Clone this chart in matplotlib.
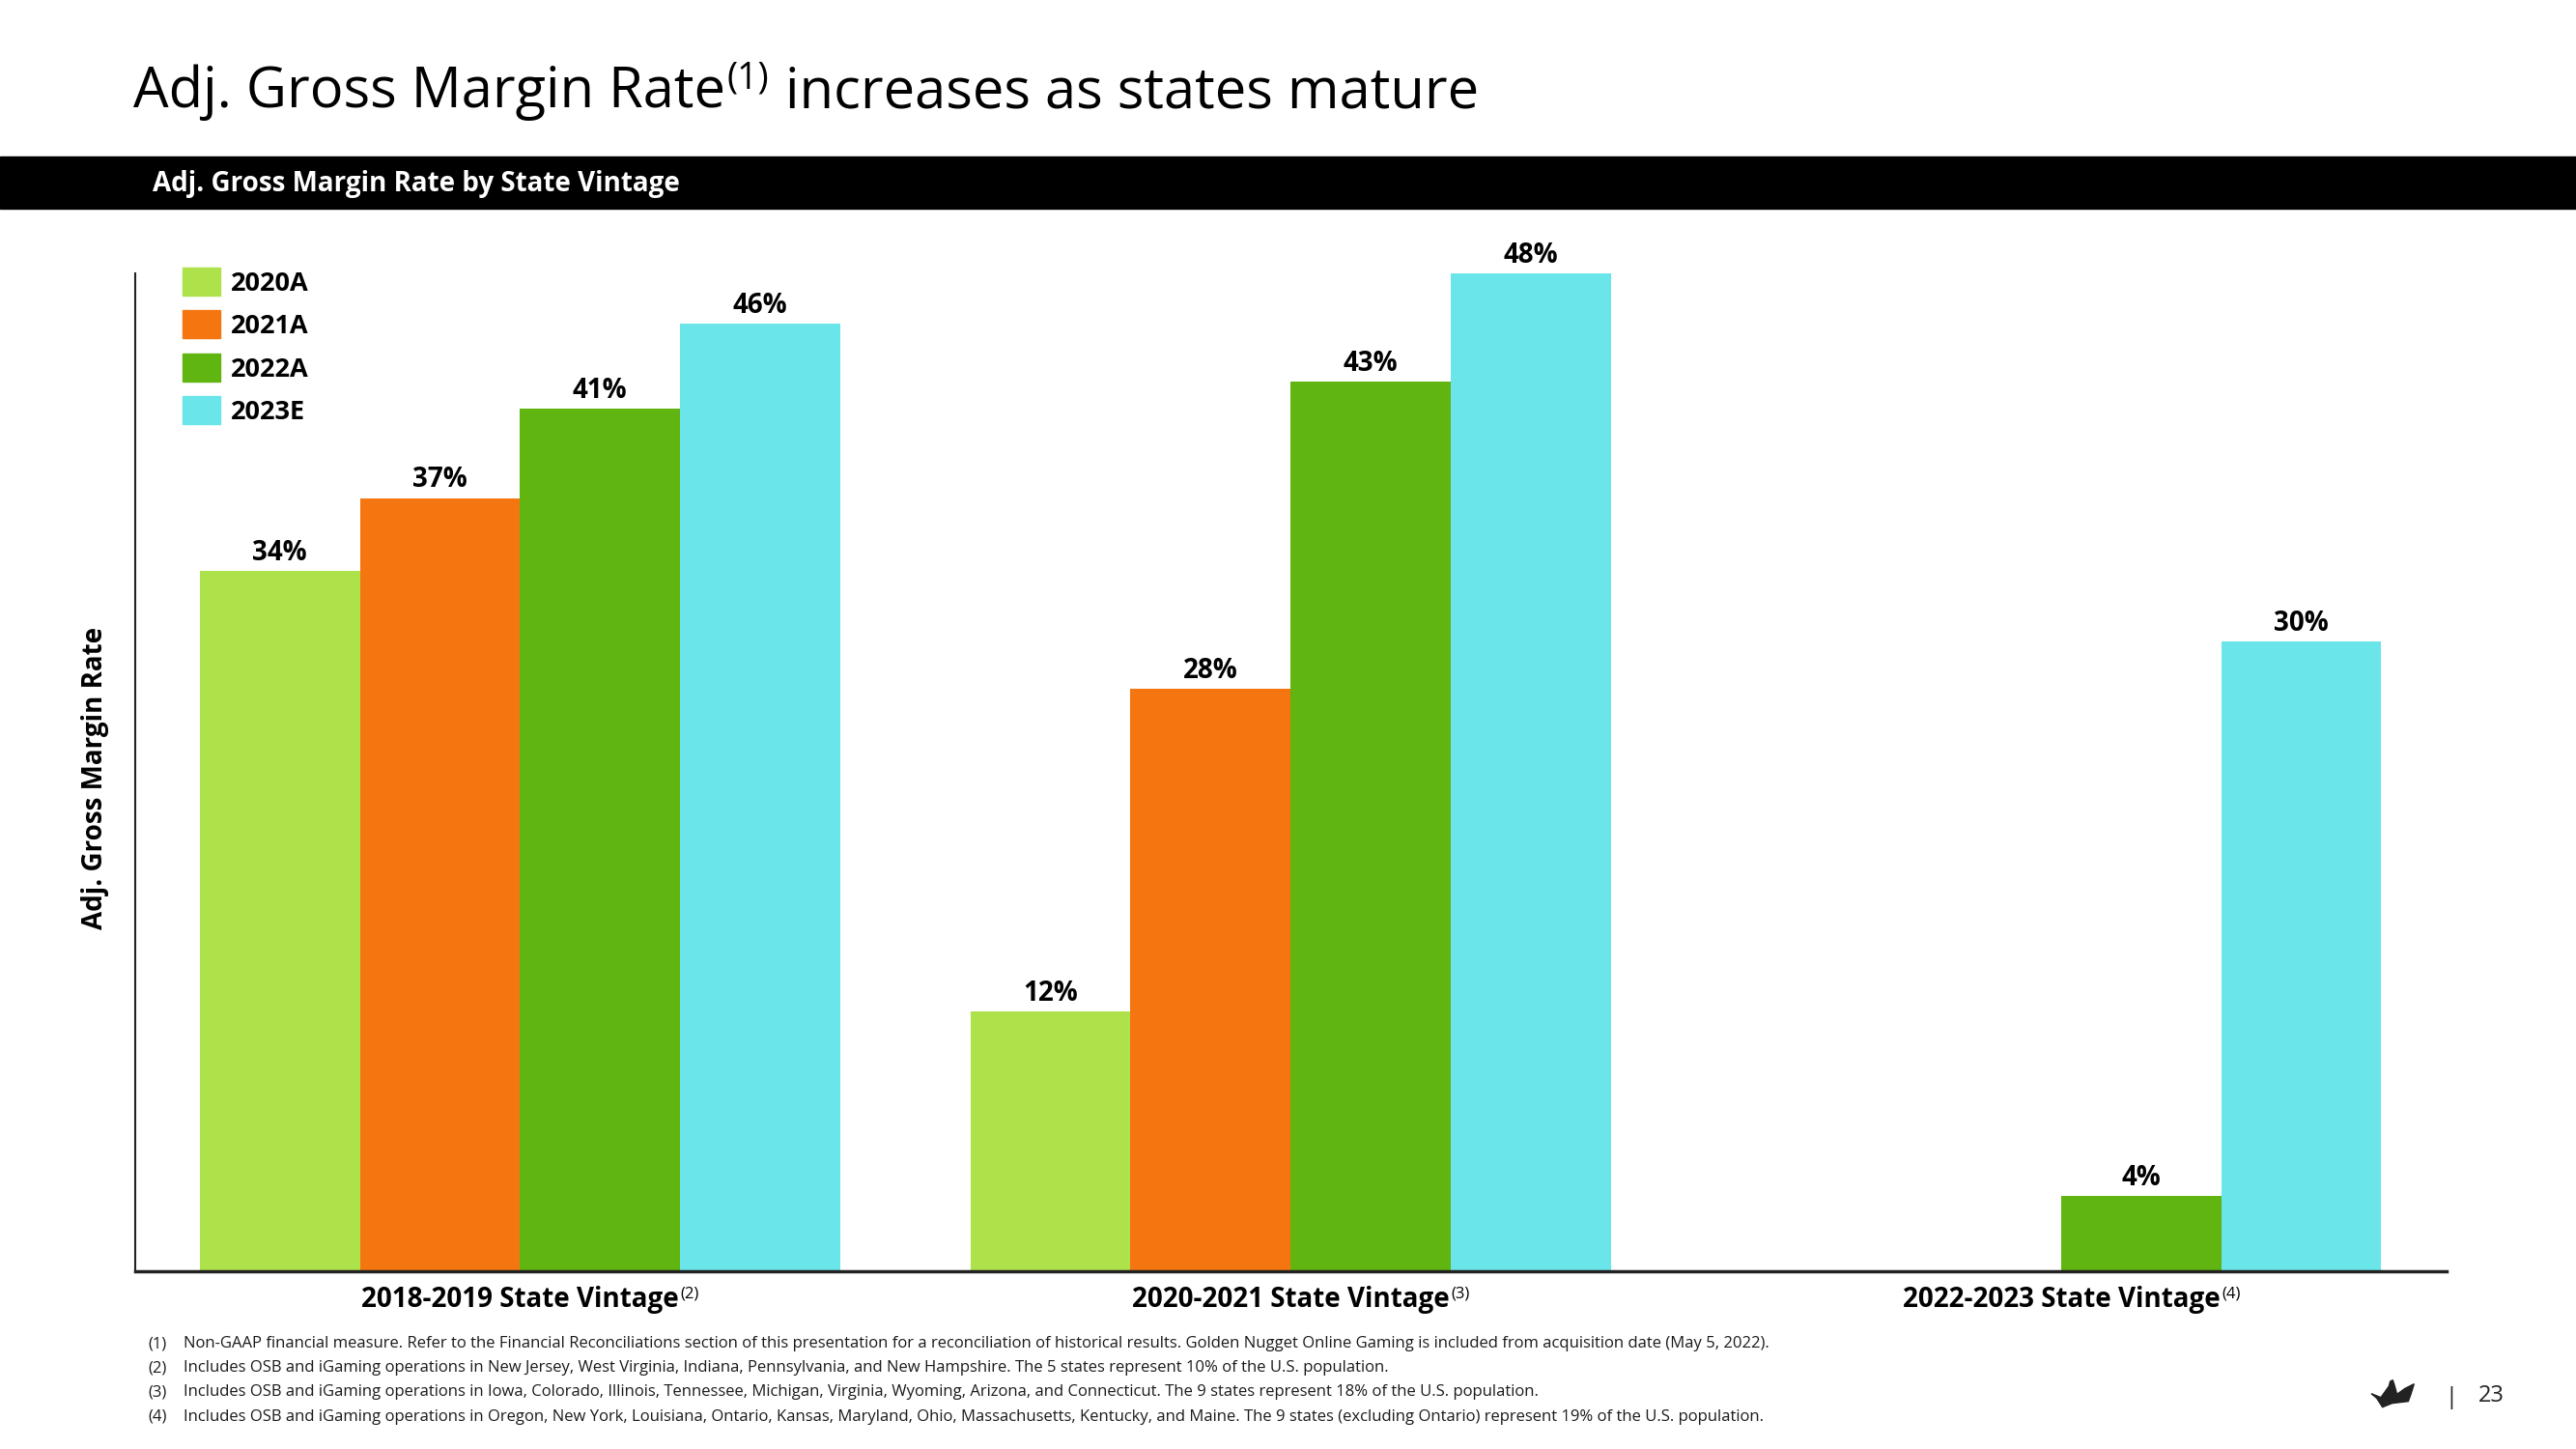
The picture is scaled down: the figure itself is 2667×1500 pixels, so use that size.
import numpy as np
import matplotlib
matplotlib.use('Agg')
import matplotlib.pyplot as plt
from matplotlib.patches import Rectangle, Polygon
from matplotlib.text import Annotation
from matplotlib.transforms import blended_transform_factory

plt.rcParams['font.family'] = ['Open Sans', 'DejaVu Sans']

vintages = ['2018-2019 State Vintage', '2020-2021 State Vintage', '2022-2023 State Vintage']
vintage_notes = ['(2)', '(3)', '(4)']
series = ['2020A', '2021A', '2022A', '2023E']
colours = ['#ADE24A', '#F57610', '#61B511', '#6AE5EA']

# bar heights (%), nan = no bar for that year
rate_2020a = [33.7, 12.5, np.nan]
rate_2021a = [37.2, 28.0, np.nan]
rate_2022a = [41.5, 42.8, 3.6]
rate_2023e = [45.6, 48.0, 30.3]

# labels as printed on the bars
label_2020a = ['34%', '12%', '']
label_2021a = ['37%', '28%', '']
label_2022a = ['41%', '43%', '4%']
label_2023e = ['46%', '48%', '30%']

footnotes = [
  'Non-GAAP financial measure. Refer to the Financial Reconciliations section of this presentation for a reconciliation of historical results. Golden Nugget Online Gaming is included from acquisition date (May 5, 2022).',
  'Includes OSB and iGaming operations in New Jersey, West Virginia, Indiana, Pennsylvania, and New Hampshire. The 5 states represent 10% of the U.S. population.',
  'Includes OSB and iGaming operations in Iowa, Colorado, Illinois, Tennessee, Michigan, Virginia, Wyoming, Arizona, and Connecticut. The 9 states represent 18% of the U.S. population.',
  'Includes OSB and iGaming operations in Oregon, New York, Louisiana, Ontario, Kansas, Maryland, Ohio, Massachusetts, Kentucky, and Maine. The 9 states (excluding Ontario) represent 19% of the U.S. population.',
]

W, H = 2667, 1500


def fx(x):
  return x / W


def fy(y):
  return 1 - y / H


fig = plt.figure(figsize=(W / 100, H / 100), dpi=100)
fig.patch.set_facecolor('white')

# title with superscript
title = fig.text(fx(138), fy(111), 'Adj. Gross Margin Rate', fontsize=41.7, va='baseline')
sup = Annotation('(1)', xy=(1, 1), xycoords=title, xytext=(1, 3), textcoords='offset points',
                 fontsize=27, ha='left', va='top', annotation_clip=False)
fig.add_artist(sup)
fig.add_artist(Annotation('increases as states mature', xy=(1, 0), xycoords=(sup, title), xytext=(12, 0),
                          textcoords='offset points', fontsize=41.7, ha='left', va='bottom',
                          annotation_clip=False))

# black band
fig.add_artist(Rectangle((0, fy(216)), 1, 54 / H, transform=fig.transFigure, color='black', zorder=0))
fig.text(fx(158), fy(198), 'Adj. Gross Margin Rate by State Vintage', color='white',
         fontsize=20, fontweight='bold', va='baseline')

ax = fig.add_axes([fx(139.5), fy(1315.5), (2532.8 - 139.5) / W, (1315.5 - 283.3) / H])
x = np.arange(len(vintages))
w = 0.2078
all_rates = [rate_2020a, rate_2021a, rate_2022a, rate_2023e]
all_labels = [label_2020a, label_2021a, label_2022a, label_2023e]
for k in range(len(series)):
  pos = x + (k - 1.5) * w
  vals = np.array(all_rates[k], dtype=float)
  ok = ~np.isnan(vals)
  ax.bar(pos[ok], vals[ok], w, color=colours[k], linewidth=0, label=series[k])
  for p, v, lab in zip(pos[ok], vals[ok], np.array(all_labels[k])[ok]):
    ax.annotate(lab, (p, v), xytext=(0, 8), textcoords='offset points', ha='center',
                va='baseline', fontsize=20, fontweight='bold')

ax.set_xlim(-0.5, 2.5)
ax.set_ylim(0, 48.0)
ax.set_xticks([])
ax.set_yticks([])
for s in ['top', 'right']:
  ax.spines[s].set_visible(False)
ax.spines['left'].set_linewidth(1.5)
ax.spines['left'].set_color('#222222')
ax.spines['bottom'].set_linewidth(2.5)
ax.spines['bottom'].set_color('#222222')

trans = blended_transform_factory(ax.transData, ax.transAxes)
for i, name in enumerate(vintages):
  t = ax.text(i, -(1353 - 1315.5) / (1315.5 - 283.3), name, transform=trans, ha='center',
              va='baseline', fontsize=20, fontweight='bold')
  ax.annotate(vintage_notes[i], xy=(1, 1), xycoords=t, xytext=(1.5, -0.5), textcoords='offset points',
              ha='left', va='top', fontsize=12, annotation_clip=False)

fig.text(fx(99), fy(805), 'Adj. Gross Margin Rate', rotation=90, ha='center', va='center',
         fontsize=20, fontweight='bold')

# legend, drawn by hand
for k, name in enumerate(series):
  top = 277 + k * 44.3
  fig.add_artist(Rectangle((fx(189), fy(top + 29)), 39 / W, 29 / H, transform=fig.transFigure,
                           color=colours[k]))
  fig.text(fx(239), fy(top + 14.5 + 9.5), name, fontsize=19.5, fontweight='bold', va='baseline')

# footnotes
for j, note in enumerate(footnotes):
  yb = 1395 + 25.2 * j
  fig.text(fx(153), fy(yb), '(%d)' % (j + 1), fontsize=12, va='baseline', color='#1a1a1a')
  fig.text(fx(190), fy(yb), note, fontsize=12, va='baseline', color='#1a1a1a')

# logo + page number
crown = [(45, 68), (75, 80), (100, 45), (104, 30), (112, 26), (118, 45), (125, 70), (150, 52),
         (178, 38), (168, 70), (160, 92), (110, 98), (80, 110), (62, 82)]
fig.add_artist(Polygon([(fx(a / 3 + 2440), fy(b / 3 + 1420)) for a, b in crown], closed=True,
                       transform=fig.transFigure, color='#222222'))
fig.text(fx(2538), fy(1453), '|', fontsize=17, ha='center', va='baseline', color='#222222')
fig.text(fx(2566), fy(1451), '23', fontsize=17, va='baseline', color='#222222')

fig.savefig('out.png', dpi=100)
